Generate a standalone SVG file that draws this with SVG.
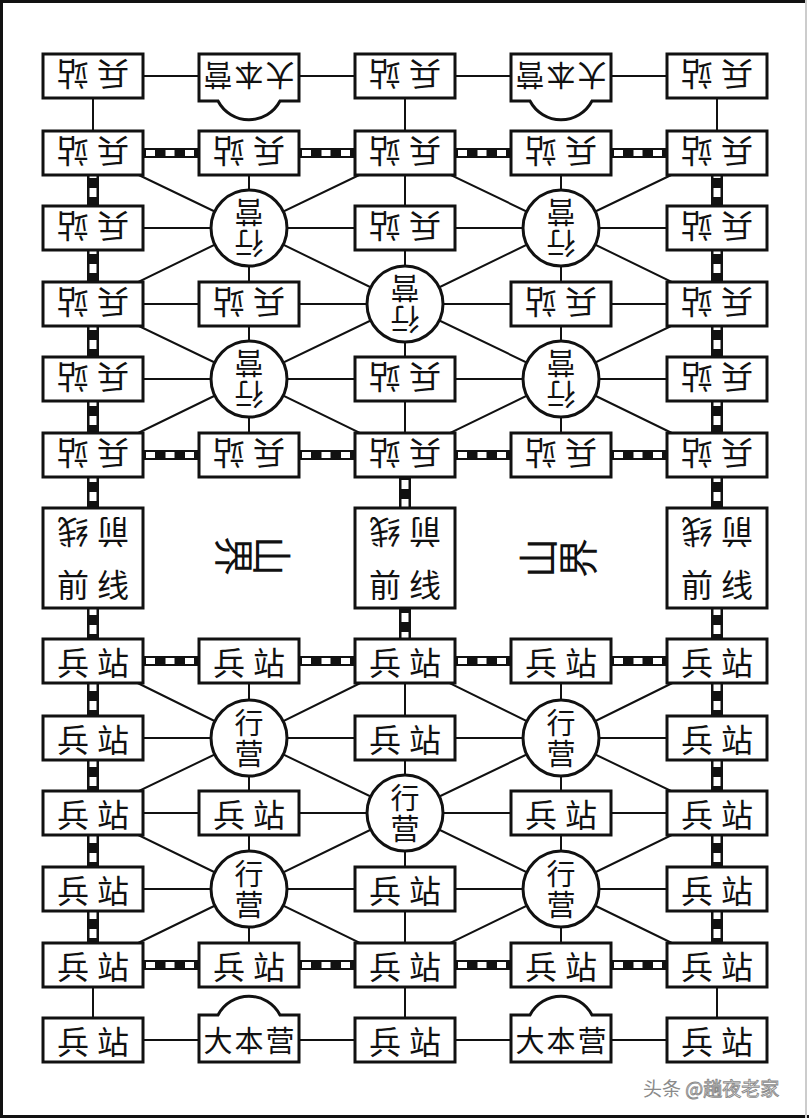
<svg xmlns="http://www.w3.org/2000/svg" width="809" height="1118" viewBox="0 0 809 1118">
<style>
.ln{stroke:#111;stroke-width:2;fill:none}
.rb{stroke:#111;stroke-width:10}
.rw{stroke:#fff;stroke-width:6;stroke-dasharray:9 10.5;stroke-dashoffset:5.5}
.vb{stroke:#111;stroke-width:12}
.vw{stroke:#fff;stroke-width:7;stroke-dasharray:9 10}
.bx{fill:#fff;stroke:#111;stroke-width:3}
.t{font-family:"Noto Sans CJK SC","Noto Sans CJK JP",sans-serif;font-size:32px;letter-spacing:8px;text-anchor:middle;dominant-baseline:central;fill:#111}
.d{font-family:"Noto Sans CJK SC","Noto Sans CJK JP",sans-serif;font-size:29px;letter-spacing:2px;text-anchor:middle;dominant-baseline:central;fill:#111}
.c{font-family:"Noto Sans CJK SC","Noto Sans CJK JP",sans-serif;font-size:29px;letter-spacing:1.5px;writing-mode:vertical-rl;text-anchor:middle;fill:#111}
.m{font-family:"Noto Sans CJK SC","Noto Sans CJK JP",sans-serif;font-size:40px;text-anchor:middle;dominant-baseline:central;fill:#111}
</style>
<rect x="0" y="0" width="809" height="1118" fill="#fff"/>
<g id="frame">
<path d="M1.5 1118 V1.5 H806" fill="none" stroke="#111" stroke-width="3"/>
<line x1="0" y1="1116.5" x2="809" y2="1116.5" stroke="#111" stroke-width="3"/>
<line x1="806" y1="0" x2="806" y2="1118" stroke="#ccc" stroke-width="2"/>
</g>
<g id="connectors">
<line class="ln" x1="93" y1="76" x2="717" y2="76"/>
<line class="ln" x1="93" y1="228" x2="717" y2="228"/>
<line class="ln" x1="93" y1="304" x2="717" y2="304"/>
<line class="ln" x1="93" y1="379" x2="717" y2="379"/>
<line class="ln" x1="93" y1="76" x2="93" y2="153"/>
<line class="ln" x1="717" y1="76" x2="717" y2="153"/>
<line class="ln" x1="405" y1="76" x2="405" y2="455"/>
<line class="ln" x1="249" y1="153" x2="249" y2="455"/>
<line class="ln" x1="561" y1="153" x2="561" y2="455"/>
<polyline class="ln" points="93,153 249,228 405,304 561,379 717,455"/>
<polyline class="ln" points="717,153 561,228 405,304 249,379 93,455"/>
<polygon class="ln" points="405,153 249,228 93,304 249,379 405,455 561,379 717,304 561,228"/>
<line class="ln" x1="93" y1="738" x2="717" y2="738"/>
<line class="ln" x1="93" y1="813" x2="717" y2="813"/>
<line class="ln" x1="93" y1="889" x2="717" y2="889"/>
<line class="ln" x1="93" y1="1040" x2="717" y2="1040"/>
<line class="ln" x1="93" y1="965" x2="93" y2="1040"/>
<line class="ln" x1="717" y1="965" x2="717" y2="1040"/>
<line class="ln" x1="405" y1="661" x2="405" y2="1040"/>
<line class="ln" x1="249" y1="661" x2="249" y2="965"/>
<line class="ln" x1="561" y1="661" x2="561" y2="965"/>
<polyline class="ln" points="93,661 249,738 405,813 561,889 717,965"/>
<polyline class="ln" points="717,661 561,738 405,813 249,889 93,965"/>
<polygon class="ln" points="405,661 249,738 93,813 249,889 405,965 561,889 717,813 561,738"/>
<line class="rb" x1="93" y1="153" x2="717" y2="153"/>
<line class="rw" x1="93" y1="153" x2="717" y2="153"/>
<line class="rb" x1="93" y1="455" x2="717" y2="455"/>
<line class="rw" x1="93" y1="455" x2="717" y2="455"/>
<line class="rb" x1="93" y1="661" x2="717" y2="661"/>
<line class="rw" x1="93" y1="661" x2="717" y2="661"/>
<line class="rb" x1="93" y1="965" x2="717" y2="965"/>
<line class="rw" x1="93" y1="965" x2="717" y2="965"/>
<line class="vb" x1="93" y1="153" x2="93" y2="965"/>
<line class="vw" x1="93" y1="153" x2="93" y2="965" stroke-dashoffset="3"/>
<line class="vb" x1="717" y1="153" x2="717" y2="965"/>
<line class="vw" x1="717" y1="153" x2="717" y2="965" stroke-dashoffset="3"/>
<line class="vb" x1="405" y1="455" x2="405" y2="661"/>
<line class="vw" x1="405" y1="455" x2="405" y2="661" stroke-dashoffset="13"/>
</g>
<!-- top half (upside down) -->
<g id="n-r1c1"><rect class="bx" x="43" y="54" width="100" height="44"/><text class="t" x="97" y="76" transform="rotate(180 93 76)">兵站</text></g>
<g id="n-r1c2"><path class="bx" d="M199,54 H299 V101 H280 A35,35 0 0 1 218,101 H199 Z"/><text class="d" x="250" y="77" transform="rotate(180 249 77)">大本营</text></g>
<g id="n-r1c3"><rect class="bx" x="355" y="54" width="100" height="44"/><text class="t" x="409" y="76" transform="rotate(180 405 76)">兵站</text></g>
<g id="n-r1c4"><path class="bx" d="M511,54 H611 V101 H592 A35,35 0 0 1 530,101 H511 Z"/><text class="d" x="562" y="77" transform="rotate(180 561 77)">大本营</text></g>
<g id="n-r1c5"><rect class="bx" x="667" y="54" width="100" height="44"/><text class="t" x="721" y="76" transform="rotate(180 717 76)">兵站</text></g>

<g id="n-r2c1"><rect class="bx" x="43" y="131" width="100" height="44"/><text class="t" x="97" y="153" transform="rotate(180 93 153)">兵站</text></g>
<g id="n-r2c2"><rect class="bx" x="199" y="131" width="100" height="44"/><text class="t" x="253" y="153" transform="rotate(180 249 153)">兵站</text></g>
<g id="n-r2c3"><rect class="bx" x="355" y="131" width="100" height="44"/><text class="t" x="409" y="153" transform="rotate(180 405 153)">兵站</text></g>
<g id="n-r2c4"><rect class="bx" x="511" y="131" width="100" height="44"/><text class="t" x="565" y="153" transform="rotate(180 561 153)">兵站</text></g>
<g id="n-r2c5"><rect class="bx" x="667" y="131" width="100" height="44"/><text class="t" x="721" y="153" transform="rotate(180 717 153)">兵站</text></g>

<g id="n-r3c1"><rect class="bx" x="43" y="206" width="100" height="44"/><text class="t" x="97" y="228" transform="rotate(180 93 228)">兵站</text></g>
<g id="n-r3c2" transform="rotate(180 249 228)"><circle class="bx" cx="249" cy="228" r="38"/><text class="c" x="249" y="229">行营</text></g>
<g id="n-r3c3"><rect class="bx" x="355" y="206" width="100" height="44"/><text class="t" x="409" y="228" transform="rotate(180 405 228)">兵站</text></g>
<g id="n-r3c4" transform="rotate(180 561 228)"><circle class="bx" cx="561" cy="228" r="38"/><text class="c" x="561" y="229">行营</text></g>
<g id="n-r3c5"><rect class="bx" x="667" y="206" width="100" height="44"/><text class="t" x="721" y="228" transform="rotate(180 717 228)">兵站</text></g>

<g id="n-r4c1"><rect class="bx" x="43" y="282" width="100" height="44"/><text class="t" x="97" y="304" transform="rotate(180 93 304)">兵站</text></g>
<g id="n-r4c2"><rect class="bx" x="199" y="282" width="100" height="44"/><text class="t" x="253" y="304" transform="rotate(180 249 304)">兵站</text></g>
<g id="n-r4c3" transform="rotate(180 405 304)"><circle class="bx" cx="405" cy="304" r="38"/><text class="c" x="405" y="305">行营</text></g>
<g id="n-r4c4"><rect class="bx" x="511" y="282" width="100" height="44"/><text class="t" x="565" y="304" transform="rotate(180 561 304)">兵站</text></g>
<g id="n-r4c5"><rect class="bx" x="667" y="282" width="100" height="44"/><text class="t" x="721" y="304" transform="rotate(180 717 304)">兵站</text></g>

<g id="n-r5c1"><rect class="bx" x="43" y="357" width="100" height="44"/><text class="t" x="97" y="379" transform="rotate(180 93 379)">兵站</text></g>
<g id="n-r5c2" transform="rotate(180 249 379)"><circle class="bx" cx="249" cy="379" r="38"/><text class="c" x="249" y="380">行营</text></g>
<g id="n-r5c3"><rect class="bx" x="355" y="357" width="100" height="44"/><text class="t" x="409" y="379" transform="rotate(180 405 379)">兵站</text></g>
<g id="n-r5c4" transform="rotate(180 561 379)"><circle class="bx" cx="561" cy="379" r="38"/><text class="c" x="561" y="380">行营</text></g>
<g id="n-r5c5"><rect class="bx" x="667" y="357" width="100" height="44"/><text class="t" x="721" y="379" transform="rotate(180 717 379)">兵站</text></g>

<g id="n-r6c1"><rect class="bx" x="43" y="433" width="100" height="44"/><text class="t" x="97" y="455" transform="rotate(180 93 455)">兵站</text></g>
<g id="n-r6c2"><rect class="bx" x="199" y="433" width="100" height="44"/><text class="t" x="253" y="455" transform="rotate(180 249 455)">兵站</text></g>
<g id="n-r6c3"><rect class="bx" x="355" y="433" width="100" height="44"/><text class="t" x="409" y="455" transform="rotate(180 405 455)">兵站</text></g>
<g id="n-r6c4"><rect class="bx" x="511" y="433" width="100" height="44"/><text class="t" x="565" y="455" transform="rotate(180 561 455)">兵站</text></g>
<g id="n-r6c5"><rect class="bx" x="667" y="433" width="100" height="44"/><text class="t" x="721" y="455" transform="rotate(180 717 455)">兵站</text></g>

<!-- front lines -->
<g id="n-f1"><rect class="bx" x="43" y="508" width="100" height="100"/><text class="t" x="97" y="534" transform="rotate(180 93 534)">前线</text><text class="t" x="97" y="583">前线</text></g>
<g id="n-f3"><rect class="bx" x="355" y="508" width="100" height="100"/><text class="t" x="409" y="534" transform="rotate(180 405 534)">前线</text><text class="t" x="409" y="583">前线</text></g>
<g id="n-f5"><rect class="bx" x="667" y="508" width="100" height="100"/><text class="t" x="721" y="534" transform="rotate(180 717 534)">前线</text><text class="t" x="721" y="583">前线</text></g>

<g id="label-left"><text class="m" x="236" y="556" transform="rotate(90 236 556)">界</text><text class="m" x="274" y="556" transform="rotate(90 274 556)">山</text></g>
<g id="label-right"><text class="m" x="536" y="558" transform="rotate(-90 536 558)">山</text><text class="m" x="576" y="558" transform="rotate(-90 576 558)">界</text></g>

<!-- bottom half -->
<g id="n-r7c1"><rect class="bx" x="43" y="639" width="100" height="44"/><text class="t" x="97" y="661">兵站</text></g>
<g id="n-r7c2"><rect class="bx" x="199" y="639" width="100" height="44"/><text class="t" x="253" y="661">兵站</text></g>
<g id="n-r7c3"><rect class="bx" x="355" y="639" width="100" height="44"/><text class="t" x="409" y="661">兵站</text></g>
<g id="n-r7c4"><rect class="bx" x="511" y="639" width="100" height="44"/><text class="t" x="565" y="661">兵站</text></g>
<g id="n-r7c5"><rect class="bx" x="667" y="639" width="100" height="44"/><text class="t" x="721" y="661">兵站</text></g>

<g id="n-r8c1"><rect class="bx" x="43" y="716" width="100" height="44"/><text class="t" x="97" y="738">兵站</text></g>
<g id="n-r8c2"><circle class="bx" cx="249" cy="738" r="38"/><text class="c" x="249" y="739">行营</text></g>
<g id="n-r8c3"><rect class="bx" x="355" y="716" width="100" height="44"/><text class="t" x="409" y="738">兵站</text></g>
<g id="n-r8c4"><circle class="bx" cx="561" cy="738" r="38"/><text class="c" x="561" y="739">行营</text></g>
<g id="n-r8c5"><rect class="bx" x="667" y="716" width="100" height="44"/><text class="t" x="721" y="738">兵站</text></g>

<g id="n-r9c1"><rect class="bx" x="43" y="791" width="100" height="44"/><text class="t" x="97" y="813">兵站</text></g>
<g id="n-r9c2"><rect class="bx" x="199" y="791" width="100" height="44"/><text class="t" x="253" y="813">兵站</text></g>
<g id="n-r9c3"><circle class="bx" cx="405" cy="813" r="38"/><text class="c" x="405" y="814">行营</text></g>
<g id="n-r9c4"><rect class="bx" x="511" y="791" width="100" height="44"/><text class="t" x="565" y="813">兵站</text></g>
<g id="n-r9c5"><rect class="bx" x="667" y="791" width="100" height="44"/><text class="t" x="721" y="813">兵站</text></g>

<g id="n-r10c1"><rect class="bx" x="43" y="867" width="100" height="44"/><text class="t" x="97" y="889">兵站</text></g>
<g id="n-r10c2"><circle class="bx" cx="249" cy="889" r="38"/><text class="c" x="249" y="890">行营</text></g>
<g id="n-r10c3"><rect class="bx" x="355" y="867" width="100" height="44"/><text class="t" x="409" y="889">兵站</text></g>
<g id="n-r10c4"><circle class="bx" cx="561" cy="889" r="38"/><text class="c" x="561" y="890">行营</text></g>
<g id="n-r10c5"><rect class="bx" x="667" y="867" width="100" height="44"/><text class="t" x="721" y="889">兵站</text></g>

<g id="n-r11c1"><rect class="bx" x="43" y="943" width="100" height="44"/><text class="t" x="97" y="965">兵站</text></g>
<g id="n-r11c2"><rect class="bx" x="199" y="943" width="100" height="44"/><text class="t" x="253" y="965">兵站</text></g>
<g id="n-r11c3"><rect class="bx" x="355" y="943" width="100" height="44"/><text class="t" x="409" y="965">兵站</text></g>
<g id="n-r11c4"><rect class="bx" x="511" y="943" width="100" height="44"/><text class="t" x="565" y="965">兵站</text></g>
<g id="n-r11c5"><rect class="bx" x="667" y="943" width="100" height="44"/><text class="t" x="721" y="965">兵站</text></g>

<g id="n-r12c1"><rect class="bx" x="43" y="1018" width="100" height="44"/><text class="t" x="97" y="1040">兵站</text></g>
<g id="n-r12c2"><path class="bx" d="M199,1062 H299 V1015 H280 A35,35 0 0 0 218,1015 H199 Z"/><text class="d" x="250" y="1039">大本营</text></g>
<g id="n-r12c3"><rect class="bx" x="355" y="1018" width="100" height="44"/><text class="t" x="409" y="1040">兵站</text></g>
<g id="n-r12c4"><path class="bx" d="M511,1062 H611 V1015 H592 A35,35 0 0 0 530,1015 H511 Z"/><text class="d" x="562" y="1039">大本营</text></g>
<g id="n-r12c5"><rect class="bx" x="667" y="1018" width="100" height="44"/><text class="t" x="721" y="1040">兵站</text></g>

<g id="watermark"><text x="643" y="1096" font-family="'Noto Sans CJK SC',sans-serif" font-size="19" fill="#8a8a8a">头条 <tspan fill="#fff" stroke="#8a8a8a" stroke-width="0.9">@趟夜老家</tspan></text></g>
</svg>
